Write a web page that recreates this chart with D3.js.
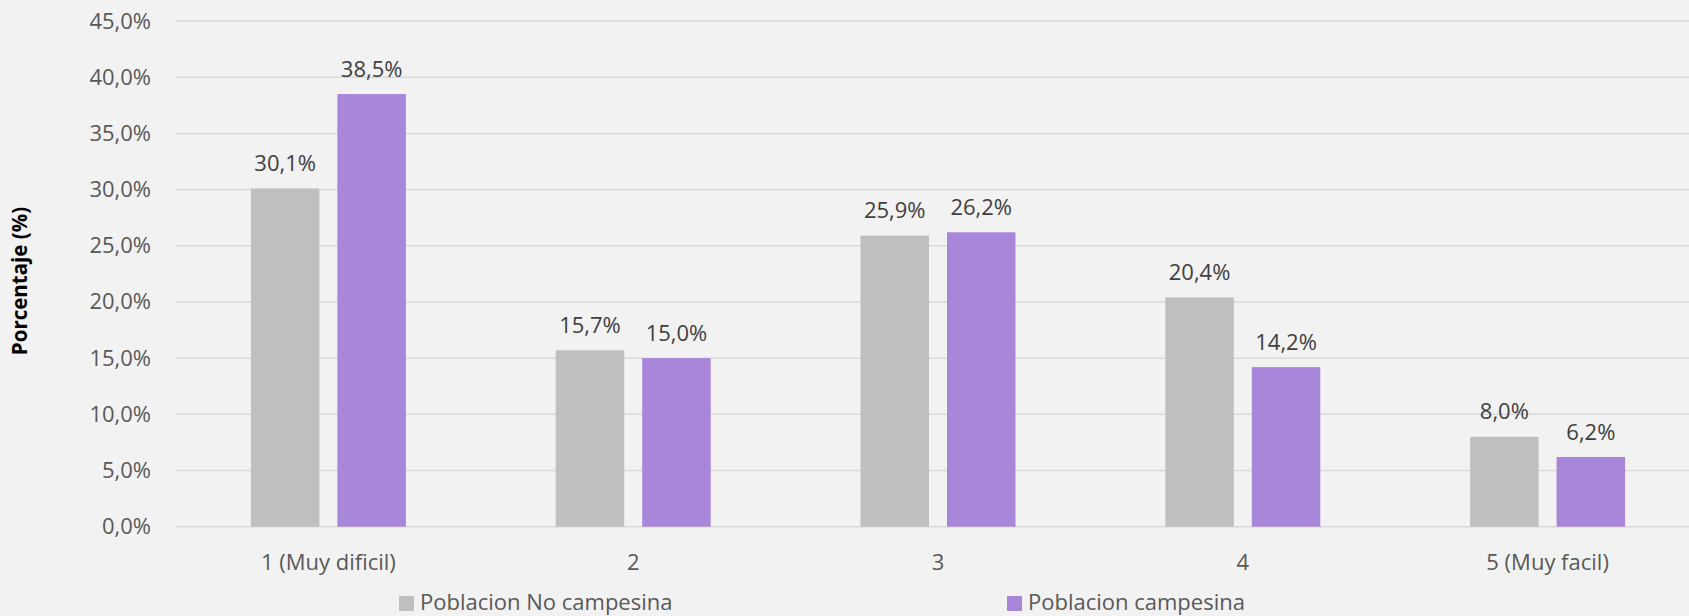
<!DOCTYPE html>
<html>
<head>
<meta charset="utf-8">
<script src="https://cdn.jsdelivr.net/npm/d3@7"></script>
<style>
  body { margin: 0; background: #f2f2f2; }
  svg { display: block; font-family: "Open Sans", "Noto Sans", sans-serif; }
</style>
</head>
<body>
<div id="chart"></div>
<script>
var categories = ['1 (Muy dificil)', '2', '3', '4', '5 (Muy facil)'];
var seriesNames = ['Poblacion No campesina', 'Poblacion campesina'];
var noCampesina = [30.1, 15.7, 25.9, 20.4, 8.0];
var campesina = [38.5, 15.0, 26.2, 14.2, 6.2];
var yTicks = [0, 5, 10, 15, 20, 25, 30, 35, 40, 45];
var colors = ['#bfbfbf', '#a886d9'];

var width = 1689, height = 616;

var svg = d3.select('#chart').append('svg')
    .attr('width', width)
    .attr('height', height);

svg.append('rect')
    .attr('width', width)
    .attr('height', height)
    .attr('fill', '#f2f2f2');

var x0 = d3.scaleBand()
    .domain(categories)
    .range([176, 1700])
    .paddingInner(0.4915)
    .paddingOuter(0.24575);

var x1 = d3.scaleBand()
    .domain(seriesNames)
    .range([0, x0.bandwidth()])
    .paddingInner(0.208);

var y = d3.scaleLinear()
    .domain([0, 45])
    .range([526.7, 21]);

var fmt = function (v) { return v.toFixed(1).replace('.', ',') + '%'; };

// gridlines
svg.append('g')
    .selectAll('line')
    .data(yTicks)
    .enter().append('line')
    .attr('x1', 176)
    .attr('x2', width)
    .attr('y1', function (d) { return y(d); })
    .attr('y2', function (d) { return y(d); })
    .attr('stroke', '#d9d9d9')
    .attr('stroke-width', 1.5);

// y axis labels
var yAxis = d3.axisLeft(y).tickValues(yTicks).tickFormat(fmt).tickSize(0).tickPadding(0);
var yg = svg.append('g')
    .attr('transform', 'translate(151,0)')
    .call(yAxis);
yg.select('.domain').remove();
yg.selectAll('text')
    .attr('font-size', '22px')
    .attr('font-family', '"Open Sans", "Noto Sans", sans-serif')
    .attr('fill', '#595959');

// x axis labels
var xAxis = d3.axisBottom(x0).tickSize(0).tickPadding(0);
var xg = svg.append('g')
    .attr('transform', 'translate(0,552)')
    .call(xAxis);
xg.select('.domain').remove();
xg.selectAll('text')
    .attr('dy', null)
    .attr('y', 18)
    .attr('font-size', '22px')
    .attr('font-family', '"Open Sans", "Noto Sans", sans-serif')
    .attr('fill', '#595959');

var rows = categories.map(function (c, i) {
    return { cat: c, values: [
        { name: seriesNames[0], v: noCampesina[i], color: colors[0] },
        { name: seriesNames[1], v: campesina[i], color: colors[1] }
    ] };
});

var groups = svg.append('g')
    .selectAll('g')
    .data(rows)
    .enter().append('g')
    .attr('transform', function (d) { return 'translate(' + x0(d.cat) + ',0)'; });

groups.selectAll('rect')
    .data(function (d) { return d.values; })
    .enter().append('rect')
    .attr('x', function (d) { return x1(d.name); })
    .attr('y', function (d) { return y(d.v); })
    .attr('width', x1.bandwidth())
    .attr('height', function (d) { return y(0) - y(d.v); })
    .attr('fill', function (d) { return d.color; });

groups.selectAll('text')
    .data(function (d) { return d.values; })
    .enter().append('text')
    .attr('x', function (d) { return x1(d.name) + x1.bandwidth() / 2; })
    .attr('y', function (d) { return y(d.v) - 17.5; })
    .attr('text-anchor', 'middle')
    .attr('font-size', '22px')
    .attr('fill', '#404040')
    .text(function (d) { return fmt(d.v); });

// y axis title
svg.append('text')
    .attr('transform', 'translate(27,281) rotate(-90)')
    .attr('text-anchor', 'middle')
    .attr('font-size', '20.5px')
    .attr('font-weight', 'bold')
    .attr('fill', '#000')
    .text('Porcentaje (%)');

// legend
var legendX = [399, 1007];
var legend = svg.append('g')
    .selectAll('g')
    .data(seriesNames)
    .enter().append('g')
    .attr('transform', function (d, i) { return 'translate(' + legendX[i] + ',596)'; });

legend.append('rect')
    .attr('width', 15)
    .attr('height', 15)
    .attr('fill', function (d, i) { return colors[i]; });

legend.append('text')
    .attr('x', 21)
    .attr('y', 14)
    .attr('font-size', '22px')
    .attr('fill', '#595959')
    .text(function (d) { return d; });
</script>
</body>
</html>
